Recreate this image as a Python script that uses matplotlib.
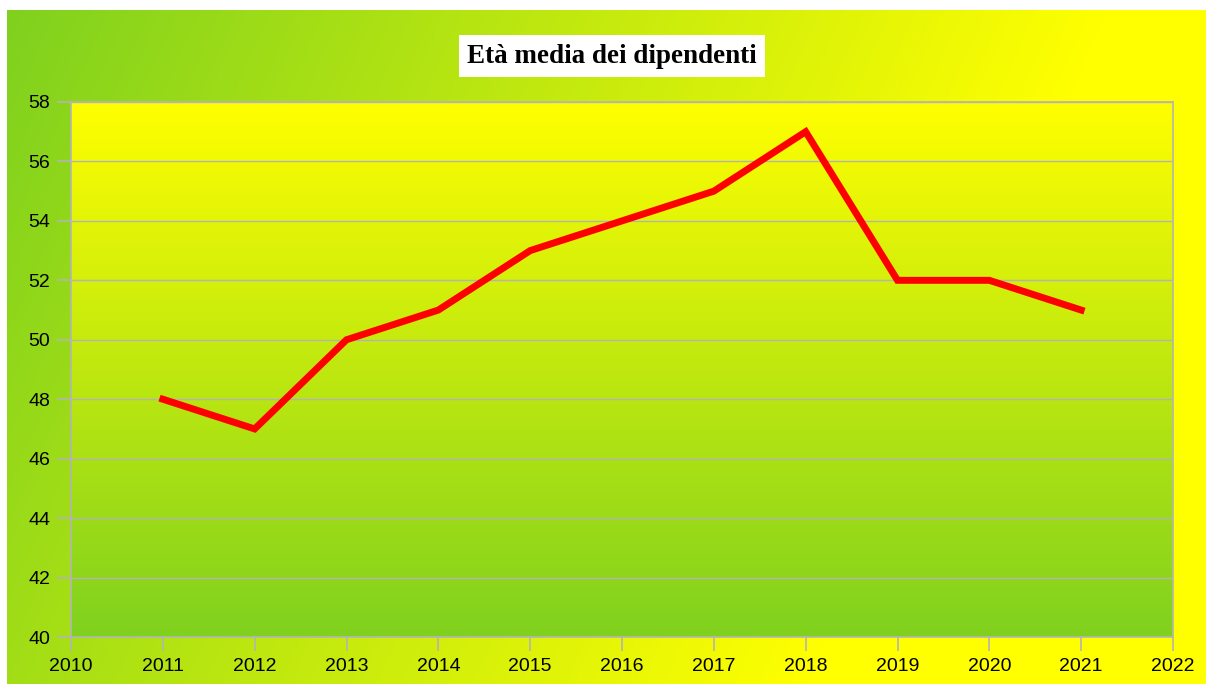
import matplotlib.pyplot as plt
import numpy as np
from matplotlib.colors import LinearSegmentedColormap

# data
years = [2011, 2012, 2013, 2014, 2015, 2016, 2017, 2018, 2019, 2020, 2021]
eta_media = [48, 47, 50, 51, 53, 54, 55, 57, 52, 52, 51]
x_ticks = list(range(2010, 2023))
y_ticks = list(range(40, 59, 2))

green = (0.50, 0.82, 0.12)
yellow = (1.0, 1.0, 0.0)
cmap = LinearSegmentedColormap.from_list('gy', [green, yellow])

fig = plt.figure(figsize=(12.06, 6.84), dpi=100)
fig.patch.set_facecolor('white')

# background of the chart area (diagonal gradient)
bg = fig.add_axes([7 / 1206, 0, 1 - 7 / 1206, 674 / 684], zorder=0)
gx, gy = np.meshgrid(np.linspace(0, 1, 400), np.linspace(1, 0, 200))
t = np.clip((gx + 0.25 * (1 - gy)) / 0.92, 0, 1)
bg.imshow(t, cmap=cmap, aspect='auto', extent=[0, 1, 0, 1], vmin=0, vmax=1)
bg.axis('off')

# plot area
ax = fig.add_axes([71 / 1206, 47 / 684, (1173 - 71) / 1206, (637 - 102) / 684], zorder=1)
grad = np.linspace(1, 0, 256).reshape(-1, 1)
ax.imshow(grad, cmap=cmap, aspect='auto', extent=[2010, 2022, 40, 58],
          vmin=0, vmax=1, zorder=0)
ax.set_xlim(2010, 2022)
ax.set_ylim(40, 58)
ax.set_xticks(x_ticks)
ax.set_yticks(y_ticks)
ax.grid(axis='y', color='#b4b4b4', linewidth=1, zorder=1)
ax.plot(years, eta_media, color='#ff0000', linewidth=5, solid_joinstyle='miter', zorder=3)

for s in ax.spines.values():
    s.set_color('#b4b4b4')
    s.set_linewidth(1.2)
ax.tick_params(axis='both', direction='out', length=10, color='#b4b4b4', width=1.2,
               labelsize=14, pad=5)
for lab in ax.get_xticklabels() + ax.get_yticklabels():
    lab.set_fontfamily('Liberation Sans')

# title
fig.text(0.5075, 0.918, 'Età media dei dipendenti', ha='center', va='center',
         fontsize=19.5, fontweight='bold', family='Liberation Serif',
         bbox=dict(facecolor='white', edgecolor='none', pad=6))

fig.savefig('out.png', dpi=100)
plt.close(fig)
